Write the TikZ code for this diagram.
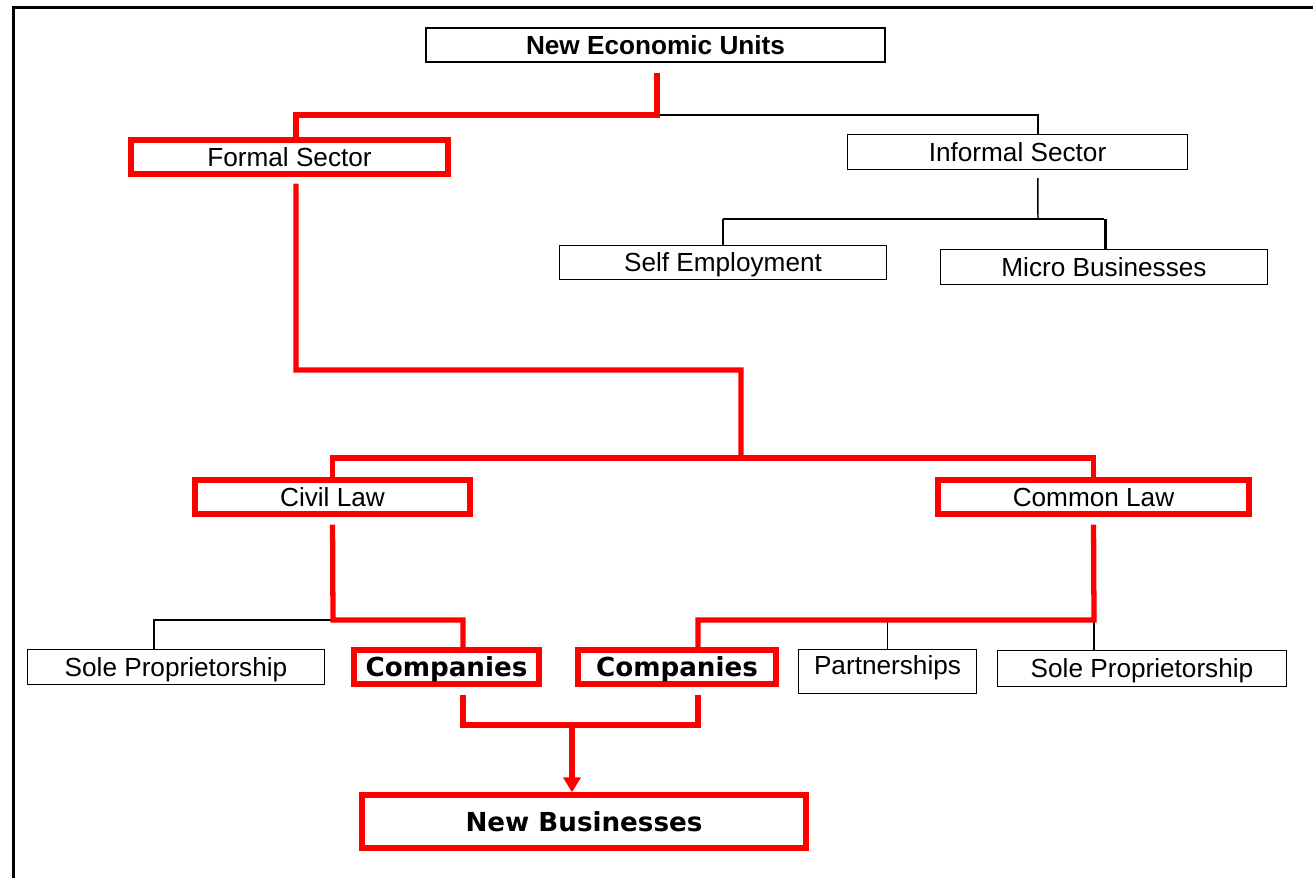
\documentclass[tikz,border=0pt]{standalone}
\usepackage{fontspec}
\setmainfont{Liberation Sans}
\newfontfamily\heavyfont{DejaVu Sans}
\usetikzlibrary{arrows.meta, positioning, calc}
\definecolor{flowred}{RGB}{255,0,0}

\tikzset{
  unit/.style={draw=black, line width=0.8pt, inner sep=2pt, text depth=0pt,
    font=\fontsize{14.9pt}{18pt}\selectfont},
  redunit/.style={unit, draw=flowred, line width=3pt},
  link/.style={draw=black, line width=0.85pt},
  drop/.style={draw=black, line width=1.6pt},
  redlink/.style={draw=flowred, line width=3pt}
}

\begin{document}
\begin{tikzpicture}[x=0.02cm, y=-0.02cm]
  \useasboundingbox (0,0) rectangle (1313,877);
  \draw[line width=1.7pt] (13.5,7.5) rectangle (1340,900);

  % top level
  \node[unit, minimum width=9.18cm, minimum height=0.68cm] (neu) at (655.5,45) {\bfseries New Economic Units};
  \node[redunit, minimum width=6.34cm, minimum height=0.68cm] (formal) at (289.5,157) {Formal Sector};
  \node[unit, minimum width=6.8cm, minimum height=0.7cm] (informal) at (1017.5,152) {Informal Sector};
  \node[unit, minimum width=6.54cm, minimum height=0.68cm] (self) at (723,262.5) {Self Employment};
  \node[unit, minimum width=6.54cm, minimum height=0.7cm] (micro) at (1104,267) {Micro Businesses};

  % legal systems
  \node[redunit, minimum width=5.5cm, minimum height=0.68cm] (civil) at (332.5,497) {Civil Law};
  \node[redunit, minimum width=6.22cm, minimum height=0.68cm] (common) at (1093.5,497) {Common Law};

  % business forms
  \node[unit, minimum width=5.94cm, minimum height=0.7cm] (soleA) at (176,667) {Sole Proprietorship};
  \node[redunit, minimum width=3.7cm, minimum height=0.68cm, font=\fontsize{14.9pt}{18pt}\heavyfont\bfseries] (compA) at (446.5,667) {Companies};
  \node[redunit, minimum width=3.96cm, minimum height=0.68cm, font=\fontsize{14.9pt}{18pt}\heavyfont\bfseries] (compB) at (677,667) {Companies};
  \node[unit, minimum width=3.56cm, minimum height=0.88cm, text depth=7pt] (partner) at (887.5,671.5) {Partnerships};
  \node[unit, minimum width=5.78cm, minimum height=0.72cm] (soleB) at (1142,668.5) {Sole Proprietorship};

  \node[redunit, minimum width=8.88cm, minimum height=1.06cm, font=\fontsize{14.9pt}{18pt}\heavyfont\bfseries] (newbiz) at (584,821.5) {New Businesses};

  % split points
  \coordinate (neuSplit) at (657,115);
  \coordinate (formalBend) at (296,370);
  \coordinate (lawSplit) at (741,458);
  \coordinate (infSplit) at (1038,219);
  \coordinate (civilSplit) at (333,620);
  \coordinate (commonSplit) at (1094,620);
  \coordinate (compJoin) at (572,725);

  % informal branch
  \draw[link] (neuSplit) -| ([xshift=11.6pt]informal.north);
  \draw[link, shorten <=4.5pt] ([xshift=11.6pt]informal.south) -- (infSplit);
  \draw[link] (self.north |- infSplit) -- (micro.north |- infSplit);
  \draw[drop] (self.north) -- (self.north |- infSplit);
  \draw[drop] ([xshift=1pt]micro.north) -- ([xshift=1pt]micro.north |- infSplit);

  % black side branches
  \draw[link] (civilSplit) -| ([xshift=-12.5pt]soleA.north);
  \draw[link] (partner.north) -- (partner.north |- commonSplit);
  \draw[link] (commonSplit) -- (commonSplit |- soleB.north);

  % formal path in red
  \draw[redlink, shorten <=5.7pt] (neu.south -| neuSplit) -- (neuSplit) -| ([xshift=3.7pt]formal.north);
  \draw[redlink, shorten <=4pt] ([xshift=3.7pt]formal.south) -- (formalBend) -| (lawSplit);
  \draw[redlink] (civil.north) |- (lawSplit) -| (common.north);
  \draw[redlink, shorten <=4.5pt] (civil.south) -- (civilSplit) -| ([xshift=9.4pt]compA.north);
  \draw[redlink, shorten <=4.5pt] (common.south) -- (commonSplit) -| ([xshift=11.9pt]compB.north);
  \draw[redlink, shorten <=4.5pt] ([xshift=9.4pt]compA.south) |- (compJoin);
  \draw[redlink, shorten <=4.5pt] ([xshift=11.9pt]compB.south) |- (compJoin);
  \draw[redlink, -{Triangle[width=9.6pt, length=8.5pt]}] (compJoin) -- (compJoin |- newbiz.north);
\end{tikzpicture}
\end{document}
